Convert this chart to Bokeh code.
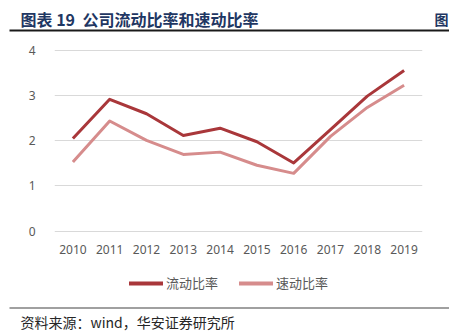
from bokeh.plotting import figure
from bokeh.models import Range1d, FactorRange, FixedTicker, Legend, LegendItem
from bokeh.core.properties import value
from bokeh.embed import file_html
from bokeh.resources import INLINE

years = ["2010", "2011", "2012", "2013", "2014", "2015", "2016", "2017", "2018", "2019"]
current_ratio = [2.05, 2.92, 2.60, 2.12, 2.28, 1.98, 1.51, 2.25, 2.99, 3.56]
quick_ratio = [1.53, 2.44, 2.01, 1.70, 1.75, 1.46, 1.28, 2.10, 2.74, 3.23]
series_names = ["流动比率", "速动比率"]
y_ticks = [0, 1, 2, 3, 4]

title_num = "图表 19"
title_text = "公司流动比率和速动比率"
source_text = "资料来源：wind，华安证券研究所"

CJK = value("Noto Sans CJK SC")
NAVY = "#1F3763"
DARK = "#A9373A"
LIGHT = "#D68C8C"
W = 449

def blank(h):
    f = figure(width=W, height=h, x_range=Range1d(0, W), y_range=Range1d(h, 0),
               min_border=0, toolbar_location=None, output_backend="svg",
               x_axis_location=None, y_axis_location=None, outline_line_color=None)
    f.grid.visible = False
    return f

# header (page y 0..32)
hd = blank(32)
hd.text(x=[20], y=[18], text=[title_num], text_font=CJK, text_font_style="bold",
        text_font_size="16px", text_color=NAVY, text_baseline="middle", text_align="left")
hd.text(x=[82], y=[18], text=[title_text], text_font=CJK, text_font_style="bold",
        text_font_size="16px", text_color=NAVY, text_baseline="middle", text_align="left")
hd.text(x=[434], y=[18], text=["图"], text_font=CJK, text_font_style="bold",
        text_font_size="14px", text_color=NAVY, text_baseline="middle", text_align="left")
hd.segment(x0=[9], y0=[30], x1=[W], y1=[30], line_width=2, line_color="#1a1a1a")

# main chart (page y 32..262)
p = figure(width=W, height=230, x_range=FactorRange(*years, range_padding=0),
           y_range=Range1d(-0.03, 4.2), toolbar_location=None, output_backend="svg",
           min_border_top=9, min_border_bottom=30, min_border_left=54, min_border_right=27,
           outline_line_color=None)
p.line(years, current_ratio, line_color=DARK, line_width=3, line_join="round")
p.line(years, quick_ratio, line_color=LIGHT, line_width=3, line_join="round")

p.xgrid.visible = False
p.ygrid.grid_line_color = "#D9D9D9"
p.ygrid.grid_line_width = 1
p.yaxis.ticker = FixedTicker(ticks=y_ticks)
for ax in (p.xaxis[0], p.yaxis[0]):
    ax.axis_line_color = None
    ax.major_tick_line_color = None
    ax.minor_tick_line_color = None
    ax.major_tick_out = 0
    ax.major_tick_in = 0
    ax.major_label_text_font = "Noto Sans"
    ax.major_label_text_font_size = "12px"
    ax.major_label_text_color = "#595959"
p.yaxis.major_label_standoff = 19
p.xaxis.major_label_standoff = 12

# footer with legend (page y 262..336)
ft = blank(74)
l1 = ft.line([-20, -10], [-20, -20], line_color=DARK, line_width=4, line_cap="round")
l2 = ft.line([-20, -10], [-20, -20], line_color=LIGHT, line_width=4, line_cap="round")
legend = Legend(items=[LegendItem(label=series_names[0], renderers=[l1]),
                       LegendItem(label=series_names[1], renderers=[l2])],
                location=(129, 44), orientation="horizontal",
                glyph_width=34, glyph_height=14, label_standoff=3, spacing=21,
                padding=0, margin=0, border_line_color=None, background_fill_alpha=0,
                label_text_font="Noto Sans CJK SC", label_text_font_size="13px",
                label_text_color="#595959")
ft.add_layout(legend, "center")
ft.segment(x0=[9], y0=[45.5], x1=[W], y1=[45.5], line_width=1.5, line_color="#808080")
ft.text(x=[20], y=[59], text=[source_text], text_font=CJK, text_font_size="14px",
        text_color="#262626", text_baseline="middle", text_align="left")

open("out.html", "w").write(file_html([hd, p, ft], INLINE))
